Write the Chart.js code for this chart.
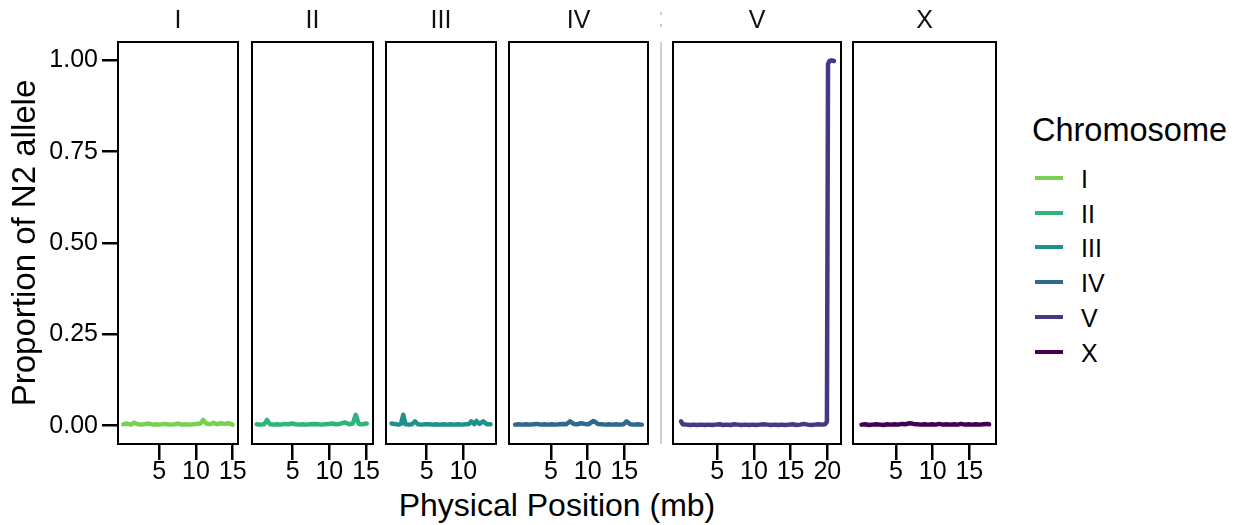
<!DOCTYPE html>
<html>
<head>
<meta charset="utf-8">
<title>Proportion of N2 allele</title>
<script src="https://cdn.jsdelivr.net/npm/chart.js@4.4.1/dist/chart.umd.min.js"></script>
<style>
  body { margin: 0; background: #fff; font-family: 'Liberation Sans', Arial, sans-serif; }
  #page { position: relative; width: 1239px; height: 525px; overflow: hidden; }
  #page canvas { position: absolute; top: 0; }
  .txt { position: absolute; color: #000; white-space: nowrap; }
  #xTitle { left: 0; width: 1114px; top: 486px; font-size: 32px; line-height: 38px; text-align: center; }
  #legendTitle { left: 1032px; top: 111px; font-size: 32.5px; line-height: 38px; }
  .key { position: absolute; left: 1035px; width: 28px; height: 4px; }
  .keyLabel { left: 1081px; font-size: 25px; line-height: 30px; }
  .sep { position: absolute; background: #cfcfcf; }
</style>
</head>
<body>
<div id="page">
    <div class="sep" style="left:660px; top:42px; width:2px; height:402px;"></div>
    <div class="sep" style="left:660px; top:12px; width:2px; height:3px;"></div>
    <div class="sep" style="left:660px; top:24px; width:2px; height:3px;"></div>
    <div id="xTitle" class="txt">Physical Position (mb)</div>
    <div id="legendTitle" class="txt">Chromosome</div>
</div>

<script>
    // chromosomes and colours (viridis)
    const chromosomes = ['I', 'II', 'III', 'IV', 'V', 'X'];
    const lineColors = ['#7AD151', '#2FB47C', '#21908C', '#31688E', '#443A83', '#440154'];

    // positions (mb) and proportion of N2 allele
    const posI = [0.1, 0.6, 1.1, 1.6, 2.1, 2.6, 3.1, 3.6, 4.1, 4.6, 5.1, 5.6, 6.1, 6.6, 7.1, 7.6, 8.1, 8.6, 9.1, 9.6, 10.1, 10.6, 11.0, 11.4, 11.9, 12.4, 12.9, 13.4, 13.9, 14.4, 15.0];
    const valI = [0.004, 0.006, 0.003, 0.008, 0.004, 0.003, 0.005, 0.006, 0.003, 0.004, 0.003, 0.005, 0.004, 0.003, 0.004, 0.006, 0.003, 0.004, 0.003, 0.004, 0.005, 0.006, 0.016, 0.006, 0.004, 0.008, 0.004, 0.007, 0.005, 0.007, 0.003];

    const posII = [0.1, 0.6, 1.1, 1.5, 1.9, 2.4, 2.9, 3.4, 3.9, 4.4, 4.9, 5.4, 5.9, 6.4, 6.9, 7.4, 7.9, 8.4, 8.9, 9.4, 9.9, 10.4, 10.9, 11.4, 12.1, 12.7, 13.2, 13.6, 14.0, 14.5, 15.1];
    const valII = [0.004, 0.003, 0.004, 0.016, 0.004, 0.003, 0.004, 0.003, 0.005, 0.004, 0.006, 0.004, 0.003, 0.004, 0.003, 0.004, 0.005, 0.004, 0.003, 0.004, 0.005, 0.006, 0.004, 0.005, 0.009, 0.004, 0.006, 0.030, 0.005, 0.004, 0.006];

    const posIII = [0.2, 0.6, 1.1, 1.5, 1.8, 2.1, 2.6, 3.0, 3.4, 3.8, 4.3, 4.8, 5.3, 5.8, 6.3, 6.8, 7.3, 7.8, 8.3, 8.8, 9.3, 9.8, 10.3, 10.8, 11.1, 11.5, 11.8, 12.2, 12.7, 13.2, 13.7];
    const valIII = [0.006, 0.005, 0.003, 0.005, 0.030, 0.004, 0.003, 0.004, 0.012, 0.004, 0.003, 0.004, 0.004, 0.003, 0.004, 0.003, 0.004, 0.003, 0.004, 0.003, 0.004, 0.003, 0.004, 0.005, 0.012, 0.004, 0.013, 0.005, 0.012, 0.004, 0.004];

    const posIV = [0.1, 0.6, 1.1, 1.6, 2.1, 2.6, 3.1, 3.6, 4.1, 4.6, 5.1, 5.6, 6.1, 6.6, 7.1, 7.6, 8.1, 8.6, 9.1, 9.6, 10.1, 10.8, 11.4, 11.9, 12.4, 12.9, 13.4, 13.9, 14.4, 14.9, 15.3, 15.8, 16.3, 16.8, 17.4];
    const valIV = [0.003, 0.004, 0.003, 0.004, 0.003, 0.004, 0.005, 0.003, 0.004, 0.003, 0.004, 0.003, 0.004, 0.005, 0.004, 0.012, 0.005, 0.004, 0.007, 0.005, 0.004, 0.013, 0.005, 0.004, 0.003, 0.004, 0.003, 0.004, 0.003, 0.004, 0.012, 0.004, 0.003, 0.004, 0.003];

    const posV = [0.05, 0.3, 0.8, 1.3, 1.8, 2.3, 2.8, 3.3, 3.8, 4.3, 4.8, 5.3, 5.8, 6.3, 6.8, 7.3, 7.8, 8.3, 8.8, 9.3, 9.8, 10.3, 10.8, 11.3, 11.8, 12.3, 12.8, 13.3, 13.8, 14.3, 14.8, 15.3, 15.8, 16.3, 16.8, 17.3, 17.8, 18.3, 18.8, 19.3, 19.7, 19.95, 20.1, 20.3, 20.6, 20.9];
    const valV = [0.012, 0.004, 0.003, 0.002, 0.003, 0.002, 0.003, 0.002, 0.003, 0.002, 0.003, 0.004, 0.002, 0.003, 0.002, 0.004, 0.003, 0.002, 0.003, 0.002, 0.003, 0.002, 0.003, 0.004, 0.003, 0.002, 0.003, 0.002, 0.003, 0.002, 0.003, 0.004, 0.002, 0.003, 0.005, 0.003, 0.002, 0.003, 0.004, 0.003, 0.004, 0.011, 0.990, 0.998, 1.000, 0.998];

    const posX = [0.3, 0.8, 1.3, 1.8, 2.3, 2.8, 3.3, 3.8, 4.3, 4.8, 5.3, 5.8, 6.3, 6.9, 7.4, 7.9, 8.4, 8.9, 9.4, 9.9, 10.4, 10.9, 11.4, 11.9, 12.4, 12.9, 13.4, 13.9, 14.4, 14.9, 15.4, 15.9, 16.4, 16.9, 17.4, 17.7];
    const valX = [0.003, 0.004, 0.002, 0.003, 0.004, 0.003, 0.002, 0.004, 0.003, 0.004, 0.003, 0.005, 0.004, 0.007, 0.005, 0.004, 0.003, 0.004, 0.003, 0.004, 0.003, 0.005, 0.003, 0.004, 0.003, 0.004, 0.003, 0.005, 0.003, 0.004, 0.003, 0.004, 0.003, 0.004, 0.005, 0.004];

    // tick labels
    const yTicks = [0, 0.25, 0.5, 0.75, 1];
    const xTicksI = [5, 10, 15];
    const xTicksII = [5, 10, 15];
    const xTicksIII = [5, 10];
    const xTicksIV = [5, 10, 15];
    const xTicksV = [5, 10, 15, 20];
    const xTicksX = [5, 10, 15];

    const positions = [posI, posII, posIII, posIV, posV, posX];
    const values = [valI, valII, valIII, valIV, valV, valX];
    const xTicks = [xTicksI, xTicksII, xTicksIII, xTicksIV, xTicksV, xTicksX];

    // panel geometry (pixels) and axis ranges
    const panels = [
        { left: 118, right: 238, min: -0.63, max: 15.73 },
        { left: 252, right: 373, min: -0.55, max: 15.95 },
        { left: 386, right: 496, min: -0.55, max: 14.45 },
        { left: 509, right: 648, min: -0.73, max: 18.23 },
        { left: 673, right: 841, min: -1.04, max: 21.87 },
        { left: 853, right: 996, min: -0.86, max: 18.64 }
    ];
    const PAD = 30;
    const CANVAS_H = 487;

    Chart.defaults.font.family = "'Liberation Sans', Arial, sans-serif";
    Chart.defaults.color = '#000';

    const panelFrame = {
        id: 'panelFrame',
        afterDatasetsDraw(chart) {
            const { ctx, chartArea: a } = chart;
            ctx.save();
            ctx.strokeStyle = '#000';
            ctx.lineWidth = 2;
            ctx.strokeRect(a.left, a.top, a.right - a.left, a.bottom - a.top);
            ctx.restore();
        }
    };

    const page = document.getElementById('page');

    chromosomes.forEach((chr, i) => {
        const p = panels[i];
        const first = i === 0;
        const canvas = document.createElement('canvas');
        const cLeft = first ? 0 : p.left - PAD;
        const cWidth = p.right + PAD - cLeft;
        canvas.width = cWidth;
        canvas.height = CANVAS_H;
        canvas.style.left = cLeft + 'px';
        canvas.style.width = cWidth + 'px';
        canvas.style.height = CANVAS_H + 'px';
        page.appendChild(canvas);

        new Chart(canvas.getContext('2d'), {
            type: 'line',
            data: {
                datasets: [{
                    label: chr,
                    data: positions[i].map((x, k) => ({ x: x, y: values[i][k] })),
                    borderColor: lineColors[i],
                    backgroundColor: lineColors[i],
                    borderWidth: 4.5,
                    pointRadius: 0,
                    tension: 0,
                    borderCapStyle: 'round',
                    borderJoinStyle: 'round'
                }]
            },
            options: {
                responsive: false,
                animation: false,
                events: [],
                layout: { padding: { left: first ? 3 : PAD, right: PAD, top: 0, bottom: 0 } },
                plugins: {
                    legend: { display: false },
                    tooltip: { enabled: false },
                    title: {
                        display: true,
                        text: chr,
                        fullSize: false,
                        color: '#111',
                        font: { size: 25, weight: 'normal', lineHeight: 1.2 },
                        padding: { top: 6, bottom: 6 }
                    }
                },
                scales: {
                    x: {
                        type: 'linear',
                        min: p.min,
                        max: p.max,
                        bounds: 'data',
                        afterBuildTicks: s => { s.ticks = xTicks[i].map(v => ({ value: v })); },
                        afterFit: s => { s.height = 43; s.paddingLeft = 0; s.paddingRight = 0; },
                        grid: { drawOnChartArea: false, drawTicks: true, tickLength: 16, tickColor: '#000', lineWidth: 2.5 },
                        border: { display: false },
                        ticks: {
                            padding: 0,
                            maxRotation: 0,
                            autoSkip: false,
                            color: '#000',
                            font: { size: 25, lineHeight: 1.0 },
                            callback: v => String(v)
                        }
                    },
                    y: {
                        type: 'linear',
                        display: first,
                        min: -0.05,
                        max: 1.05,
                        bounds: 'data',
                        afterBuildTicks: s => { s.ticks = yTicks.map(v => ({ value: v })); },
                        afterFit: s => {
                            if (first) s.width = 115;
                            s.paddingTop = 0;
                            s.paddingBottom = 0;
                        },
                        grid: { drawOnChartArea: false, drawTicks: true, tickLength: 16, tickColor: '#000', lineWidth: 2.5 },
                        border: { display: false },
                        ticks: {
                            padding: 4,
                            autoSkip: false,
                            color: '#000',
                            font: { size: 25, lineHeight: 1.0 },
                            callback: v => Number(v).toFixed(2)
                        },
                        title: {
                            display: true,
                            text: 'Proportion of N2 allele',
                            color: '#000',
                            font: { size: 33, lineHeight: 1.2 },
                            padding: { top: 3, bottom: 0 }
                        }
                    }
                }
            },
            plugins: [panelFrame]
        });
    });

    // legend
    chromosomes.forEach((chr, i) => {
        const c = 177.7 + i * 34.8;
        const key = document.createElement('div');
        key.className = 'key';
        key.style.top = (c - 2) + 'px';
        key.style.background = lineColors[i];
        page.appendChild(key);

        const lab = document.createElement('div');
        lab.className = 'txt keyLabel';
        lab.style.top = (c - 14) + 'px';
        lab.textContent = chr;
        page.appendChild(lab);
    });
</script>
</body>
</html>
